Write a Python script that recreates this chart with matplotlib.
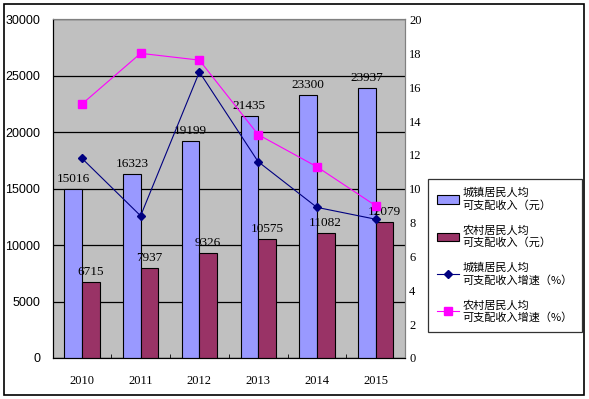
import matplotlib
matplotlib.use('Agg')
import matplotlib.pyplot as plt
from matplotlib.patches import Rectangle
from matplotlib.lines import Line2D
import numpy as np

years = ['2010', '2011', '2012', '2013', '2014', '2015']
urban_income = [15016, 16323, 19199, 21435, 23300, 23937]
rural_income = [6715, 7937, 9326, 10575, 11082, 12079]
urban_growth = [11.8, 8.4, 16.9, 11.6, 8.9, 8.2]
rural_growth = [15.0, 18.0, 17.6, 13.2, 11.3, 9.0]

legend_labels = ['城镇居民人均\n可支配收入（元）', '农村居民人均\n可支配收入（元）',
                 '城镇居民人均\n可支配收入增速（%）', '农村居民人均\n可支配收入增速（%）']

plt.rcParams['font.family'] = ['Liberation Sans', 'Noto Sans CJK SC', 'DejaVu Sans']

fig = plt.figure(figsize=(5.89, 3.99), dpi=100)
fig.patches.append(Rectangle((4 / 589, 4 / 399), 580 / 589, 391 / 399, transform=fig.transFigure,
                             fill=False, edgecolor='black', linewidth=1.2))

ax = fig.add_axes([52.5 / 589, 1 - 358 / 399, 352.5 / 589, 338.5 / 399])
ax.set_facecolor('#C0C0C0')

x = np.arange(len(years))
w = 0.3
b1 = ax.bar(x - w / 2, urban_income, w, color='#9999FF', edgecolor='black', linewidth=0.8, zorder=3)
b2 = ax.bar(x + w / 2, rural_income, w, color='#993366', edgecolor='black', linewidth=0.8, zorder=3)

for bars, vals in [(b1, urban_income), (b2, rural_income)]:
    for r, v in zip(bars, vals):
        ax.text(r.get_x() + r.get_width() / 2, v + 350, str(v), ha='center', va='bottom',
                fontsize=9.5, family='Liberation Serif', zorder=6)

ax.set_xlim(-0.5, len(years) - 0.5)
ax.set_ylim(0, 30000)
ax.set_yticks(range(0, 30001, 5000))
ax.yaxis.grid(True, color='black', linewidth=0.9)
ax.set_axisbelow(True)
ax.set_xticks(x)
ax.set_xticklabels(years, family='Liberation Serif')
ax.set_xticks(np.arange(-0.5, len(years)), minor=True)
ax.tick_params(axis='x', which='major', length=0, pad=12, labelsize=9)
ax.tick_params(axis='x', which='minor', direction='in', length=3)
ax.tick_params(axis='y', length=0, pad=9, labelsize=9)
for s in ['top', 'right']:
    ax.spines[s].set_color('#808080')

ax2 = ax.twinx()
ax2.set_ylim(0, 20)
ax2.set_yticks(range(0, 21, 2))
ax2.tick_params(axis='y', length=0, pad=3, labelsize=9)
ax2.spines['right'].set_color('#808080')
ax2.spines['top'].set_color('#808080')
for lab in ax2.get_yticklabels():
    lab.set_family('Liberation Serif')
ax2.plot(x, urban_growth, color='#000080', linewidth=0.8, marker='D', markersize=4.5, zorder=5)
ax2.plot(x, rural_growth, color='#FF00FF', linewidth=0.8, marker='s', markersize=5.5, zorder=5)
ax.set_zorder(ax2.get_zorder() - 1)
ax2.patch.set_visible(False)

handles = [Rectangle((0, 0), 1, 1, facecolor='#9999FF', edgecolor='black', linewidth=0.8),
           Rectangle((0, 0), 1, 1, facecolor='#993366', edgecolor='black', linewidth=0.8),
           Line2D([], [], color='#000080', linewidth=0.8, marker='D', markersize=4.5),
           Line2D([], [], color='#FF00FF', linewidth=0.8, marker='s', markersize=5.5)]
leg = fig.legend(handles, legend_labels, loc='upper left',
                 bbox_to_anchor=(428 / 589, 1 - 179 / 399), bbox_transform=fig.transFigure,
                 prop={'family': ['Noto Sans CJK SC', 'DejaVu Sans'], 'size': 8},
                 frameon=True, fancybox=False, edgecolor='black', handlelength=2.0,
                 handleheight=0.8, labelspacing=1.3, borderpad=0.8, handletextpad=0.3,
                 borderaxespad=0)
leg.get_frame().set_linewidth(0.9)

fig.savefig('out.png', dpi=100)
